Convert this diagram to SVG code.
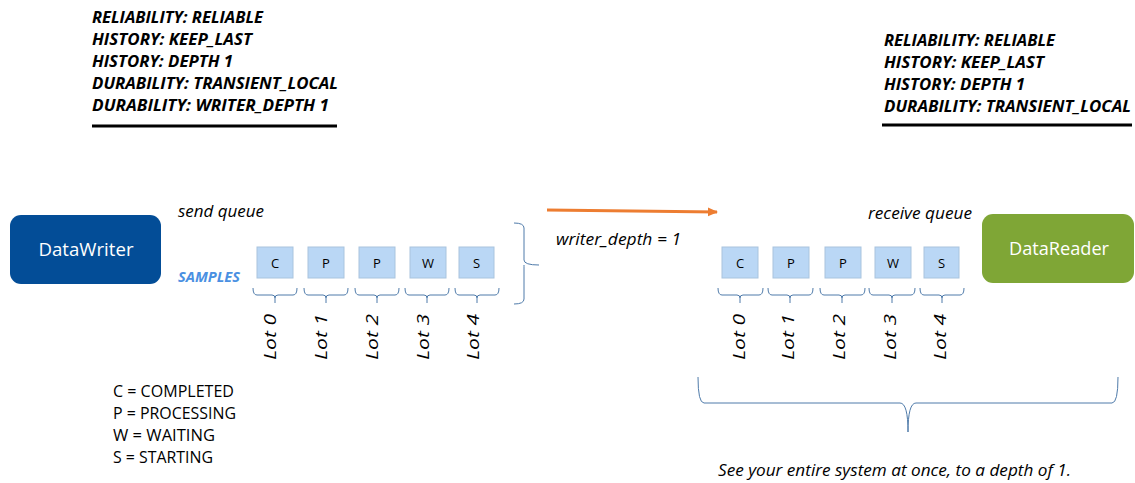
<svg xmlns="http://www.w3.org/2000/svg" width="1135" height="483" viewBox="0 0 1135 483">
<defs>
<style>
.qos{font-family:"Open Sans","Liberation Sans",sans-serif;font-weight:bold;font-style:italic;font-size:16.5px;fill:#000}
.lbl{font-family:"Open Sans","Liberation Sans",sans-serif;font-style:italic;font-size:15.5px;fill:#000}
.leg{font-family:"Open Sans","Liberation Sans",sans-serif;font-size:15.5px;fill:#000}
.node{font-family:"Open Sans","Liberation Sans",sans-serif;font-size:19px;fill:#fff}
.box{fill:#BAD7F5;stroke:#A9C4DE;stroke-width:1}
.boxt{font-family:"Open Sans","Liberation Sans",sans-serif;font-size:13px;fill:#000;text-anchor:middle}
.brace{fill:none;stroke:#4F7BAA;stroke-width:1}
.lot{font-family:"Open Sans","Liberation Sans",sans-serif;font-style:italic;font-size:16px;fill:#000;text-anchor:middle}
</style>
<marker id="ah" markerWidth="10" markerHeight="10" refX="9" refY="5" orient="auto" markerUnits="userSpaceOnUse">
<path d="M0,0.5 L10,5 L0,9.5 Z" fill="#ED7D31"/>
</marker>
</defs>
<rect width="1135" height="483" fill="#fff"/>

<g id="qos-writer">
<text class="qos" x="92" y="23" textLength="171" lengthAdjust="spacingAndGlyphs">RELIABILITY: RELIABLE</text>
<text class="qos" x="92" y="45" textLength="160" lengthAdjust="spacingAndGlyphs">HISTORY: KEEP_LAST</text>
<text class="qos" x="92" y="67" textLength="141" lengthAdjust="spacingAndGlyphs">HISTORY: DEPTH 1</text>
<text class="qos" x="92" y="89" textLength="246" lengthAdjust="spacingAndGlyphs">DURABILITY: TRANSIENT_LOCAL</text>
<text class="qos" x="92" y="111" textLength="237" lengthAdjust="spacingAndGlyphs">DURABILITY: WRITER_DEPTH 1</text>
<line x1="92" y1="126" x2="337" y2="126" stroke="#000" stroke-width="3"/>
</g>

<g id="qos-reader">
<text class="qos" x="884" y="46" textLength="171" lengthAdjust="spacingAndGlyphs">RELIABILITY: RELIABLE</text>
<text class="qos" x="884" y="68" textLength="160" lengthAdjust="spacingAndGlyphs">HISTORY: KEEP_LAST</text>
<text class="qos" x="884" y="90" textLength="141" lengthAdjust="spacingAndGlyphs">HISTORY: DEPTH 1</text>
<text class="qos" x="884" y="112" textLength="247" lengthAdjust="spacingAndGlyphs">DURABILITY: TRANSIENT_LOCAL</text>
<line x1="882" y1="125" x2="1132" y2="125" stroke="#000" stroke-width="3"/>
</g>

<g id="datawriter">
<rect x="10" y="215" width="151" height="69" rx="11" fill="#034D97"/>
<text class="node" x="86" y="256" text-anchor="middle" textLength="95" lengthAdjust="spacingAndGlyphs">DataWriter</text>
</g>

<g id="datareader">
<rect x="982" y="214" width="152" height="69" rx="11" fill="#7FA636"/>
<text class="node" x="1059" y="255" text-anchor="middle" textLength="100" lengthAdjust="spacingAndGlyphs">DataReader</text>
</g>

<g id="send-queue">
<text class="lbl" x="178" y="217" textLength="86" lengthAdjust="spacingAndGlyphs">send queue</text>
<text x="178" y="282" font-family="Open Sans, Liberation Sans, sans-serif" font-size="14" font-weight="bold" font-style="italic" fill="#4A90E2" textLength="62" lengthAdjust="spacingAndGlyphs">SAMPLES</text>
<rect class="box" x="257" y="247" width="36" height="31"/>
<rect class="box" x="308" y="247" width="36" height="31"/>
<rect class="box" x="359" y="247" width="36" height="31"/>
<rect class="box" x="410" y="247" width="36" height="31"/>
<rect class="box" x="459" y="247" width="35" height="31"/>
<text class="boxt" x="275" y="267.5">C</text>
<text class="boxt" x="326" y="267.5">P</text>
<text class="boxt" x="377" y="267.5">P</text>
<text class="boxt" x="428" y="267.5">W</text>
<text class="boxt" x="476.5" y="267.5">S</text>
<path class="brace" d="M253,288 Q253,295 257,295 L272,295 Q275,295 275,298 L275,303 M275,298 Q275,295 278,295 L293,295 Q297,295 297,288"/>
<path class="brace" d="M304,288 Q304,295 308,295 L323,295 Q326,295 326,298 L326,303 M326,298 Q326,295 329,295 L344,295 Q348,295 348,288"/>
<path class="brace" d="M355,288 Q355,295 359,295 L374,295 Q377,295 377,298 L377,303 M377,298 Q377,295 380,295 L395,295 Q399,295 399,288"/>
<path class="brace" d="M405,288 Q405,295 409,295 L424,295 Q427,295 427,298 L427,303 M427,298 Q427,295 430,295 L445,295 Q449,295 449,288"/>
<path class="brace" d="M455,288 Q455,295 459,295 L474,295 Q477,295 477,298 L477,303 M477,298 Q477,295 480,295 L495,295 Q499,295 499,288"/>
<text class="lot" transform="translate(276,337) rotate(-90)" textLength="46" lengthAdjust="spacingAndGlyphs">Lot 0</text>
<text class="lot" transform="translate(327,337) rotate(-90)" textLength="46" lengthAdjust="spacingAndGlyphs">Lot 1</text>
<text class="lot" transform="translate(378,337) rotate(-90)" textLength="46" lengthAdjust="spacingAndGlyphs">Lot 2</text>
<text class="lot" transform="translate(429,337) rotate(-90)" textLength="46" lengthAdjust="spacingAndGlyphs">Lot 3</text>
<text class="lot" transform="translate(479,337) rotate(-90)" textLength="46" lengthAdjust="spacingAndGlyphs">Lot 4</text>
<path class="brace" d="M514,223 Q524,223 524,228 L524,260 Q524,265 539,265 M524,265 Q524,265 524,270 L524,299 Q524,304 514,304"/>
</g>

<g id="receive-queue">
<text class="lbl" x="868" y="219" textLength="104" lengthAdjust="spacingAndGlyphs">receive queue</text>
<rect class="box" x="722" y="247" width="36" height="31"/>
<rect class="box" x="773" y="247" width="36" height="31"/>
<rect class="box" x="825" y="247" width="36" height="31"/>
<rect class="box" x="875" y="247" width="36" height="31"/>
<rect class="box" x="924" y="247" width="35" height="31"/>
<text class="boxt" x="740" y="267.5">C</text>
<text class="boxt" x="791" y="267.5">P</text>
<text class="boxt" x="843" y="267.5">P</text>
<text class="boxt" x="893" y="267.5">W</text>
<text class="boxt" x="941.5" y="267.5">S</text>
<path class="brace" d="M718,288 Q718,295 722,295 L737,295 Q740,295 740,298 L740,303 M740,298 Q740,295 743,295 L759,295 Q763,295 763,288"/>
<path class="brace" d="M768,288 Q768,295 772,295 L787,295 Q790,295 790,298 L790,303 M790,298 Q790,295 793,295 L809,295 Q813,295 813,288"/>
<path class="brace" d="M820,288 Q820,295 824,295 L839,295 Q842,295 842,298 L842,303 M842,298 Q842,295 845,295 L861,295 Q865,295 865,288"/>
<path class="brace" d="M869,288 Q869,295 873,295 L889,295 Q892,295 892,298 L892,303 M892,298 Q892,295 895,295 L911,295 Q915,295 915,288"/>
<path class="brace" d="M920,288 Q920,295 924,295 L939,295 Q942,295 942,298 L942,303 M942,298 Q942,295 945,295 L960,295 Q964,295 964,288"/>
<text class="lot" transform="translate(745,337) rotate(-90)" textLength="46" lengthAdjust="spacingAndGlyphs">Lot 0</text>
<text class="lot" transform="translate(794,337) rotate(-90)" textLength="46" lengthAdjust="spacingAndGlyphs">Lot 1</text>
<text class="lot" transform="translate(845,337) rotate(-90)" textLength="46" lengthAdjust="spacingAndGlyphs">Lot 2</text>
<text class="lot" transform="translate(896,337) rotate(-90)" textLength="46" lengthAdjust="spacingAndGlyphs">Lot 3</text>
<text class="lot" transform="translate(946,337) rotate(-90)" textLength="46" lengthAdjust="spacingAndGlyphs">Lot 4</text>
</g>

<g id="connectors">
<path d="M547,210 L717,212" stroke="#ED7D31" stroke-width="3" fill="none" marker-end="url(#ah)"/>
</g>

<text class="lbl" x="556" y="245" textLength="125" lengthAdjust="spacingAndGlyphs">writer_depth = 1</text>

<g id="system-brace">
<path class="brace" d="M698,377 Q698,403 704,403 L900,403 Q908,403 908,432 M908,432 Q908,403 916,403 L1112,403 Q1118,403 1118,377"/>
<text class="lbl" x="718" y="476" textLength="353" lengthAdjust="spacingAndGlyphs">See your entire system at once, to a depth of 1.</text>
</g>

<g id="legend">
<text class="leg" x="113" y="397" textLength="121" lengthAdjust="spacingAndGlyphs">C = COMPLETED</text>
<text class="leg" x="113" y="419" textLength="123" lengthAdjust="spacingAndGlyphs">P = PROCESSING</text>
<text class="leg" x="113" y="441" textLength="102" lengthAdjust="spacingAndGlyphs">W = WAITING</text>
<text class="leg" x="113" y="463" textLength="100" lengthAdjust="spacingAndGlyphs">S = STARTING</text>
</g>
</svg>
